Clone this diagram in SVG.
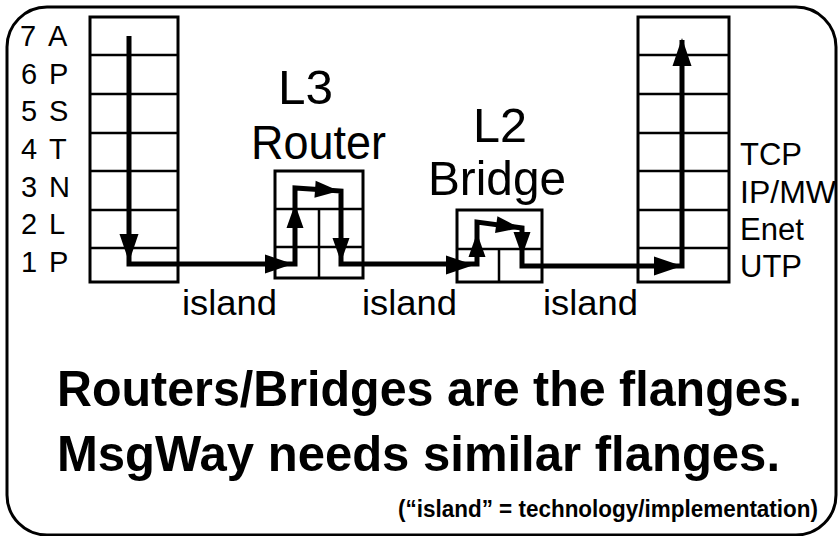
<svg xmlns="http://www.w3.org/2000/svg" xmlns:xlink="http://www.w3.org/1999/xlink" width="838" height="536" viewBox="0 0 838 536">
<defs>
<style>
.frame{fill:none;stroke:#000;stroke-width:3}
.box{fill:#fff;stroke:#000;stroke-width:3}
.grid{stroke:#000;stroke-width:2.5;fill:none}
.t{font-family:"Liberation Sans",Arial,Helvetica,sans-serif;fill:#000}
.lay{font-size:29px}
.proto{font-size:31px}
.title{font-size:49px}
.isl{font-size:35px}
.big{font-size:50px;font-weight:bold}
.note{font-size:23px;font-weight:bold}
.route{fill:none;stroke:#000;stroke-width:5;stroke-linejoin:miter}
.head{fill:#000}
</style>
<path id="ah" d="M0,0 L-28,-9.5 L-28,9.5 Z"/>
<path id="ahs" d="M0,0 L-24,-8.5 L-24,8.5 Z"/>
</defs>
<rect width="838" height="536" fill="#fff"/>
<rect class="frame" x="7" y="7" width="829" height="528" rx="40" ry="40"/>

<g id="stack-left">
<rect class="box" x="90" y="17" width="88" height="265"/>
<path class="grid" d="M90,55H178M90,94H178M90,133H178M90,171H178M90,210H178M90,248H178"/>
<text class="t lay" x="20" y="46">7</text><text class="t lay" x="48" y="46">A</text>
<text class="t lay" x="21" y="84">6</text><text class="t lay" x="49" y="84">P</text>
<text class="t lay" x="21" y="121">5</text><text class="t lay" x="49" y="121">S</text>
<text class="t lay" x="21" y="159">4</text><text class="t lay" x="49" y="159">T</text>
<text class="t lay" x="21" y="197">3</text><text class="t lay" x="49" y="197">N</text>
<text class="t lay" x="21" y="234">2</text><text class="t lay" x="49" y="234">L</text>
<text class="t lay" x="21" y="272">1</text><text class="t lay" x="49" y="272">P</text>
</g>

<g id="router">
<rect class="box" x="275" y="171" width="88" height="107"/>
<path class="grid" d="M275,209H363M275,247H363M319,209V278"/>
<text class="t title" x="278" y="104" textLength="55" lengthAdjust="spacingAndGlyphs">L3</text>
<text class="t title" x="251" y="159" textLength="135" lengthAdjust="spacingAndGlyphs">Router</text>
</g>

<g id="bridge">
<rect class="box" x="457" y="210" width="85" height="72"/>
<path class="grid" d="M457,249H542M499,249V282"/>
<text class="t title" x="473" y="142" textLength="54" lengthAdjust="spacingAndGlyphs">L2</text>
<text class="t title" x="428" y="195" textLength="138" lengthAdjust="spacingAndGlyphs">Bridge</text>
</g>

<g id="stack-right">
<rect class="box" x="638" y="17" width="91" height="265"/>
<path class="grid" d="M638,55H729M638,94H729M638,133H729M638,171H729M638,210H729M638,248H729"/>
<text class="t proto" x="740" y="165">TCP</text>
<text class="t proto" x="740" y="203" textLength="96" lengthAdjust="spacingAndGlyphs">IP/MW</text>
<text class="t proto" x="740" y="240">Enet</text>
<text class="t proto" x="740" y="277">UTP</text>
</g>

<g id="connectors">
<path class="route" d="M129,36V264H295V188L341,191V264H477V222L522,228V266H682V40"/>
<g class="head">
<use xlink:href="#ah" transform="translate(129,262) rotate(90)"/>
<use xlink:href="#ah" transform="translate(293,264)"/>
<use xlink:href="#ahs" transform="translate(295,204) rotate(-90)"/>
<use xlink:href="#ahs" transform="translate(339,191) rotate(4)"/>
<use xlink:href="#ahs" transform="translate(341,262) rotate(90)"/>
<use xlink:href="#ah" transform="translate(474,265)"/>
<use xlink:href="#ahs" transform="translate(477,233) rotate(-90)"/>
<use xlink:href="#ahs" transform="translate(520,228) rotate(8)"/>
<use xlink:href="#ahs" transform="translate(522,256) rotate(90)"/>
<use xlink:href="#ah" transform="translate(682,266)"/>
<use xlink:href="#ah" transform="translate(682,38) rotate(-90)"/>
</g>
</g>

<g id="labels">
<text class="t isl" x="182" y="315" textLength="95" lengthAdjust="spacingAndGlyphs">island</text>
<text class="t isl" x="362" y="315" textLength="95" lengthAdjust="spacingAndGlyphs">island</text>
<text class="t isl" x="543" y="315" textLength="95" lengthAdjust="spacingAndGlyphs">island</text>
<text class="t big" x="57" y="406" textLength="745" lengthAdjust="spacingAndGlyphs">Routers/Bridges are the flanges.</text>
<text class="t big" x="57" y="471" textLength="723" lengthAdjust="spacingAndGlyphs">MsgWay needs similar flanges.</text>
<text class="t note" x="398" y="517" textLength="420" lengthAdjust="spacingAndGlyphs">(“island” = technology/implementation)</text>
</g>
</svg>
